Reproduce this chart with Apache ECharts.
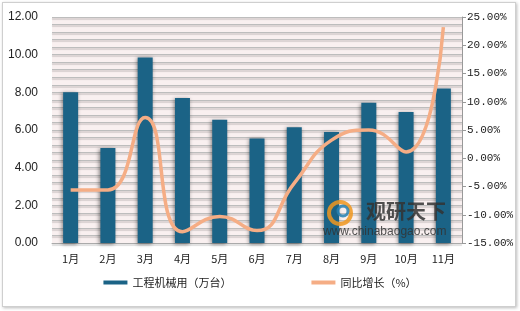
<!DOCTYPE html>
<html><head><meta charset="utf-8">
<script src="https://cdn.jsdelivr.net/npm/echarts@6/dist/echarts.min.js"></script>
<style>
html,body{margin:0;padding:0;background:#fff;}
#frame{position:absolute;left:2px;top:2px;width:512px;height:303px;border:1px solid #cfcfcf;box-shadow:1px 1px 3px #bbb;background:#fff;}
#c{position:absolute;left:0;top:0;width:520px;height:311px;}
</style></head>
<body>
<div id="frame"></div>
<div id="c"></div>
<script>
var categories = ['1月','2月','3月','4月','5月','6月','7月','8月','9月','10月','11月'];
var machinery = [8.0, 5.05, 9.85, 7.7, 6.55, 5.55, 6.15, 5.9, 7.45, 6.95, 8.2];
var growth = [-5.6, -5.6, 7.2, -13.0, -10.3, -12.8, -4.4, 3.2, 5.0, 1.1, 23.2];
var leftTicks = [0, 2, 4, 6, 8, 10, 12];
var rightTicks = [-15, -10, -5, 0, 5, 10, 15, 20, 25];

var chart = echarts.init(document.getElementById('c'));
var font = 'SimSun, "Noto Sans CJK SC", sans-serif';
chart.setOption({
  animation: false,
  grid: {left: 52, right: 58, top: 17, bottom: 68, show: true, backgroundColor: '#f9f0f0', borderWidth: 0},
  legend: {
    bottom: 18, left: 'center', itemGap: 80, itemWidth: 24, itemHeight: 4,
    textStyle: {fontSize: 11, color: '#222', fontFamily: font},
    data: [
      {name: '工程机械用（万台）', icon: 'rect', itemStyle: {color: '#1b6386'}},
      {name: '同比增长（%）', icon: 'rect', itemStyle: {color: '#f5ad85'}}
    ]
  },
  xAxis: {
    type: 'category', data: categories,
    axisLine: {show: true, lineStyle: {color: '#aaa'}},
    axisTick: {show: false},
    axisLabel: {fontSize: 11, color: '#222', margin: 10, fontFamily: font}
  },
  yAxis: [{
    type: 'value', min: leftTicks[0], max: leftTicks[leftTicks.length-1], interval: 2,
    axisLine: {show: false}, axisTick: {show: false},
    axisLabel: {fontSize: 12, color: '#222', margin: 14, formatter: function(v){return v.toFixed(2);}, fontFamily: 'Arial, "Liberation Sans", sans-serif'},
    splitLine: {show: true, lineStyle: {color: '#bdbdbd', width: 1, shadowColor: 'rgba(0,0,0,0.25)', shadowOffsetY: 1.5, shadowBlur: 1}},
    minorTick: {show: false, splitNumber: 5},
    minorSplitLine: {show: true, lineStyle: {color: '#bdbdbd', width: 1, shadowColor: 'rgba(0,0,0,0.25)', shadowOffsetY: 1.5, shadowBlur: 1}}
  }, {
    type: 'value', min: rightTicks[0], max: rightTicks[rightTicks.length-1], interval: 5,
    position: 'right',
    axisLine: {show: true, lineStyle: {color: '#999'}},
    axisTick: {show: true, length: 4, inside: false, lineStyle: {color: '#999'}},
    axisLabel: {fontSize: 11, color: '#222', margin: 5, formatter: function(v){return v.toFixed(2) + '%';}, fontFamily: '"Liberation Mono", "DejaVu Sans Mono", monospace'},
    splitLine: {show: false}
  }],
  series: [{
    name: '工程机械用（万台）', type: 'bar', data: machinery, barWidth: 15, yAxisIndex: 0,
    itemStyle: {color: '#1b6386', shadowColor: 'rgba(0,0,0,0.45)', shadowBlur: 4, shadowOffsetX: -1, shadowOffsetY: 1}
  }, {
    name: '同比增长（%）', type: 'line', data: growth, yAxisIndex: 1, smooth: 0.5,
    symbol: 'none', lineStyle: {color: '#f5ad85', width: 3.5},
    itemStyle: {color: '#f5ad85'}
  }],
  graphic: [
    {type: 'text', z: 100, left: 366, top: 201, style: {text: '观研天下', fontSize: 20, fontWeight: 'bold', fill: 'rgba(50,50,50,0.85)', fontFamily: '"Noto Sans CJK SC", sans-serif'}},
    {type: 'text', z: 100, left: 323, top: 226, style: {text: 'www.chinabaogao.com', fontSize: 12, fill: 'rgba(50,50,50,0.85)', fontFamily: 'Arial, sans-serif'}},
    {type: 'circle', z: 100, shape: {cx: 340, cy: 213, r: 11}, style: {fill: 'none', stroke: 'rgba(240,150,30,0.85)', lineWidth: 4}},
    {type: 'circle', z: 100, shape: {cx: 343, cy: 211, r: 5}, style: {fill: 'none', stroke: 'rgba(40,130,180,0.85)', lineWidth: 3}}
  ]
});
</script>
</body></html>
